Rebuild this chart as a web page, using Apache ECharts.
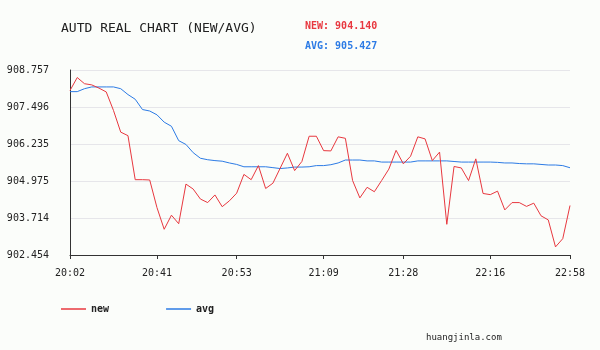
<!DOCTYPE html>
<html>
<head>
<meta charset="utf-8">
<script src="https://cdn.jsdelivr.net/npm/echarts@6/dist/echarts.min.js"></script>
<style>
  html, body { margin: 0; padding: 0; background: #fbfdfa; }
  #chart { width: 600px; height: 350px; }
</style>
</head>
<body>
<div id="chart"></div>
<script>
// 实时数据 (new / avg)
const newValues = [
  908.06, 908.50, 908.29, 908.25, 908.14, 908.01, 907.38, 906.64, 906.52, 905.02,
  905.02, 905.01, 904.07, 903.33, 903.81, 903.52, 904.87, 904.70, 904.36, 904.24,
  904.50, 904.10, 904.30, 904.56, 905.20, 905.02, 905.50, 904.72, 904.90, 905.41,
  905.92, 905.33, 905.64, 906.50, 906.50, 906.01, 906.00, 906.48, 906.43, 904.99,
  904.40, 904.76, 904.61, 904.99, 905.38, 906.02, 905.56, 905.82, 906.48, 906.41,
  905.67, 905.96, 903.50, 905.47, 905.42, 904.99, 905.73, 904.55, 904.51, 904.63,
  903.99, 904.24, 904.24, 904.11, 904.22, 903.79, 903.65, 902.73, 903.01, 904.14
];
const avgValues = [
  908.02, 908.02, 908.12, 908.18, 908.18, 908.18, 908.18, 908.12, 907.92, 907.76,
  907.41, 907.36, 907.23, 906.98, 906.84, 906.35, 906.22, 905.94, 905.75, 905.70,
  905.67, 905.65, 905.59, 905.54, 905.46, 905.46, 905.46, 905.46, 905.43, 905.40,
  905.42, 905.45, 905.45, 905.46, 905.50, 905.50, 905.53, 905.59, 905.69, 905.69,
  905.69, 905.66, 905.66, 905.62, 905.62, 905.62, 905.62, 905.62, 905.66, 905.66,
  905.66, 905.66, 905.66, 905.64, 905.62, 905.62, 905.62, 905.62, 905.62, 905.61,
  905.59, 905.59, 905.57, 905.56, 905.56, 905.54, 905.52, 905.52, 905.50, 905.427
];
// x轴标签 (只显示这几个位置)
const xTickIndex = [0, 12, 23, 35, 46, 58, 69];
const xTickLabels = ['20:02', '20:41', '20:53', '21:09', '21:28', '22:16', '22:58'];
// y轴刻度
const yTickLabels = ['902.454', '903.714', '904.975', '906.235', '907.496', '908.757'];
const yMin = 902.454;
const yMax = 908.757;
const lastNew = '904.140';
const lastAvg = '905.427';

const RED = '#e8383f';
const BLUE = '#2c7be5';
const MONO = '"DejaVu Sans Mono", "Liberation Mono", monospace';

const categories = newValues.map((v, i) => i);
const yStep = (yMax - yMin) / (yTickLabels.length - 1);
const showTick = idx => xTickIndex.indexOf(idx) !== -1;

const chart = echarts.init(document.getElementById('chart'));
chart.setOption({
  backgroundColor: '#fbfdfa',
  animation: false,
  grid: { left: 70, right: 30, top: 70, bottom: 95 },
  graphic: [
    {
      type: 'text', left: 61, top: 22,
      style: { text: 'AUTD REAL CHART (NEW/AVG)', font: '13px ' + MONO, fill: '#222' }
    },
    {
      type: 'text', left: 305, top: 21,
      style: { text: 'NEW: ' + lastNew, font: 'bold 10px ' + MONO, fill: RED }
    },
    {
      type: 'text', left: 305, top: 41,
      style: { text: 'AVG: ' + lastAvg, font: 'bold 10px ' + MONO, fill: BLUE }
    },
    {
      type: 'text', left: 426, top: 333,
      style: { text: 'huangjinla.com', font: '9px ' + MONO, fill: '#222' }
    }
  ],
  legend: {
    left: 61,
    top: 304,
    padding: 0,
    icon: 'rect',
    itemWidth: 25,
    itemHeight: 1.5,
    itemGap: 57,
    textStyle: { fontFamily: MONO, fontSize: 10, fontWeight: 'bold', color: '#222' },
    data: ['new', 'avg']
  },
  xAxis: {
    type: 'category',
    data: categories,
    boundaryGap: false,
    axisLine: { lineStyle: { color: '#333', width: 1 } },
    axisTick: { interval: showTick, length: 4, lineStyle: { color: '#333' } },
    axisLabel: {
      interval: showTick,
      margin: 13,
      fontFamily: MONO,
      fontSize: 10,
      color: '#222',
      formatter: (v, idx) => xTickLabels[xTickIndex.indexOf(idx)] || ''
    },
    splitLine: { show: false }
  },
  yAxis: {
    type: 'value',
    min: yMin,
    max: yMax,
    interval: yStep,
    axisLine: { show: true, lineStyle: { color: '#333', width: 1 } },
    axisTick: { show: false },
    axisLabel: {
      margin: 21,
      fontFamily: MONO,
      fontSize: 10,
      color: '#222',
      formatter: v => yTickLabels[Math.round((v - yMin) / yStep)]
    },
    splitLine: { lineStyle: { color: '#e6e6ea', width: 1 } }
  },
  series: [
    {
      name: 'new',
      type: 'line',
      data: newValues,
      showSymbol: false,
      lineStyle: { color: RED, width: 1 },
      itemStyle: { color: RED },
      z: 3
    },
    {
      name: 'avg',
      type: 'line',
      data: avgValues,
      showSymbol: false,
      lineStyle: { color: BLUE, width: 1 },
      itemStyle: { color: BLUE },
      z: 2
    }
  ]
});
</script>
</body>
</html>
